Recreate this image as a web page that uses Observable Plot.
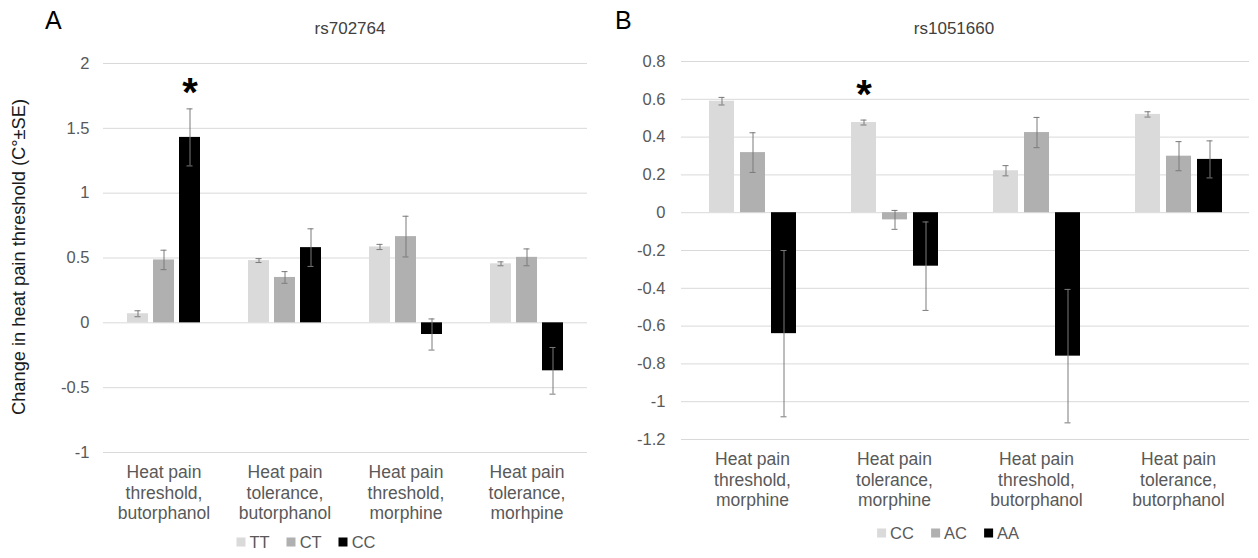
<!DOCTYPE html>
<html>
<head>
<meta charset="utf-8">
<script src="https://cdn.jsdelivr.net/npm/d3@7"></script>
<script src="https://cdn.jsdelivr.net/npm/@observablehq/plot@0.6"></script>
<style>
  html, body { margin: 0; padding: 0; background: #fff; }
  #root { position: relative; width: 1258px; height: 558px; background: #fff;
          font-family: "Liberation Sans", Arial, sans-serif; color: #595959; overflow: hidden; }
  .panel { position: absolute; top: 0; }
  .letter { position: absolute; font-size: 25px; color: #000; line-height: 1; }
  .title { position: absolute; font-size: 17px; color: #404040; transform: translate(-50%, -50%); white-space: nowrap; }
  .ylabel { position: absolute; font-size: 18.3px; color: #1a1a1a; white-space: nowrap;
            transform: translate(-50%, -50%) rotate(-90deg); }
  .legend { position: absolute; display: flex; gap: 17px; transform: translate(-50%, -50%);
            font-size: 16.5px; color: #595959; white-space: nowrap; }
  .legend span.item { display: flex; align-items: center; gap: 4px; }
  .legend span.sw { width: 9px; height: 9px; display: inline-block; }
</style>
</head>
<body>
<div id="root"></div>
<script>
// ---- Panel A: rs702764 ----
const categoriesA = [
  "Heat pain\nthreshold,\nbutorphanol",
  "Heat pain\ntolerance,\nbutorphanol",
  "Heat pain\nthreshold,\nmorphine",
  "Heat pain\ntolerance,\nmorhpine"
];
const genotypesA = ["TT", "CT", "CC"];
const meanA_TT = [0.07, 0.48, 0.585, 0.455];
const seA_TT   = [0.023, 0.015, 0.02, 0.015];
const meanA_CT = [0.485, 0.35, 0.665, 0.505];
const seA_CT   = [0.075, 0.045, 0.157, 0.065];
const meanA_CC = [1.43, 0.58, -0.09, -0.37];
const seA_CC   = [0.22, 0.145, 0.12, 0.18];
const ticksA = [-1, -0.5, 0, 0.5, 1, 1.5, 2];
const starsA = [{cat: categoriesA[0], geno: "CC", y: 1.77}];

// ---- Panel B: rs1051660 ----
const categoriesB = [
  "Heat pain\nthreshold,\nmorphine",
  "Heat pain\ntolerance,\nmorphine",
  "Heat pain\nthreshold,\nbutorphanol",
  "Heat pain\ntolerance,\nbutorphanol"
];
const genotypesB = ["CC", "AC", "AA"];
const meanB_CC = [0.59, 0.477, 0.222, 0.52];
const seB_CC   = [0.02, 0.013, 0.027, 0.014];
const meanB_AC = [0.318, -0.038, 0.424, 0.299];
const seB_AC   = [0.105, 0.05, 0.08, 0.077];
const meanB_AA = [-0.64, -0.283, -0.759, 0.282];
const seB_AA   = [0.44, 0.234, 0.353, 0.098];
const ticksB = [-1.2, -1, -0.8, -0.6, -0.4, -0.2, 0, 0.2, 0.4, 0.6, 0.8];
const starsB = [{cat: categoriesB[1], geno: "CC", y: 0.62}];

const fills = ["#dadada", "#b0b0b0", "#000000"];
const tickFmt = d => String(+d.toFixed(2));

function rowsFor(categories, genotypes, means, ses) {
  const rows = [];
  categories.forEach((cat, i) => {
    genotypes.forEach((geno, g) => {
      rows.push({cat, geno, mean: means[g][i], lo: means[g][i] - ses[g][i], hi: means[g][i] + ses[g][i]});
    });
  });
  return rows;
}

function panel(o) {
  const rows = rowsFor(o.categories, o.genotypes, o.means, o.ses);
  return Plot.plot({
    width: o.width,
    height: o.height,
    marginTop: o.marginTop,
    marginBottom: o.marginBottom,
    marginLeft: o.marginLeft,
    marginRight: o.marginRight,
    style: {fontFamily: "'Liberation Sans', Arial, sans-serif", fontSize: "16.5px", color: "#595959", background: "transparent", overflow: "visible"},
    fx: {domain: o.categories, padding: 0, axis: null},
    x: {domain: o.genotypes, paddingInner: o.padInner, paddingOuter: o.padOuter, axis: null},
    y: {domain: o.yDomain, ticks: o.ticks, tickFormat: tickFmt, tickSize: 0, tickPadding: o.tickPadding, label: null},
    color: {domain: o.genotypes, range: fills},
    marks: [
      Plot.ruleY(o.ticks, {stroke: "#d9d9d9", strokeWidth: 1}),
      Plot.barY(rows, {fx: "cat", x: "geno", y: "mean", fill: "geno"}),
      Plot.ruleX(rows, {fx: "cat", x: "geno", y1: "lo", y2: "hi", stroke: "#7a7a7a", strokeWidth: 1}),
      Plot.tickY(rows, {fx: "cat", x: "geno", y: "lo", stroke: "#7a7a7a", insetLeft: o.capInset, insetRight: o.capInset}),
      Plot.tickY(rows, {fx: "cat", x: "geno", y: "hi", stroke: "#7a7a7a", insetLeft: o.capInset, insetRight: o.capInset}),
      Plot.text(o.categories, {fx: d => d, text: d => d, frameAnchor: "bottom", lineAnchor: "top", dy: 11,
        lineHeight: 1.17, fontSize: 17.5, fill: "#595959"}),
      Plot.text(o.stars, {fx: "cat", x: "geno", y: "y", text: () => "*", fontSize: 40, fontWeight: "bold",
        fill: "#000", lineAnchor: "middle"})
    ]
  });
}

const root = document.getElementById("root");

function addDiv(cls, text, css) {
  const d = document.createElement("div");
  d.className = cls;
  if (text != null) d.textContent = text;
  Object.assign(d.style, css);
  root.appendChild(d);
  return d;
}

function addLegend(genotypes, cx, cy) {
  const lg = addDiv("legend", null, {left: cx + "px", top: cy + "px"});
  genotypes.forEach((g, i) => {
    const item = document.createElement("span");
    item.className = "item";
    const sw = document.createElement("span");
    sw.className = "sw";
    sw.style.background = fills[i];
    const t = document.createElement("span");
    t.textContent = g;
    item.appendChild(sw);
    item.appendChild(t);
    lg.appendChild(item);
  });
}

// Panel A
const wrapA = addDiv("panel", null, {left: "0px"});
wrapA.appendChild(panel({
  categories: categoriesA, genotypes: genotypesA,
  means: [meanA_TT, meanA_CT, meanA_CC], ses: [seA_TT, seA_CT, seA_CC],
  yDomain: [-1, 2], ticks: ticksA, stars: starsA,
  width: 620, height: 525, marginTop: 63, marginBottom: 73, marginLeft: 102, marginRight: 33,
  padInner: 0.2075, padOuter: 0.891, capInset: 7.5, tickPadding: 14
}));
addDiv("letter", "A", {left: "45px", top: "8px"});
addDiv("title", "rs702764", {left: "350px", top: "29px"});
addDiv("ylabel", "Change in heat pain threshold (C°±SE)", {left: "19px", top: "257px"});
addLegend(genotypesA, 306, 542);

// Panel B
const wrapB = addDiv("panel", null, {left: "600px"});
wrapB.appendChild(panel({
  categories: categoriesB, genotypes: genotypesB,
  means: [meanB_CC, meanB_AC, meanB_AA], ses: [seB_CC, seB_AC, seB_AA],
  yDomain: [-1.2, 0.8], ticks: ticksB, stars: starsB,
  width: 658, height: 525, marginTop: 61, marginBottom: 86, marginLeft: 80, marginRight: 9,
  padInner: 0.206, padOuter: 0.861, capInset: 9.5, tickPadding: 16
}));
addDiv("letter", "B", {left: "615px", top: "8px"});
addDiv("title", "rs1051660", {left: "954px", top: "29px"});
addLegend(genotypesB, 948, 533);
</script>
</body>
</html>
